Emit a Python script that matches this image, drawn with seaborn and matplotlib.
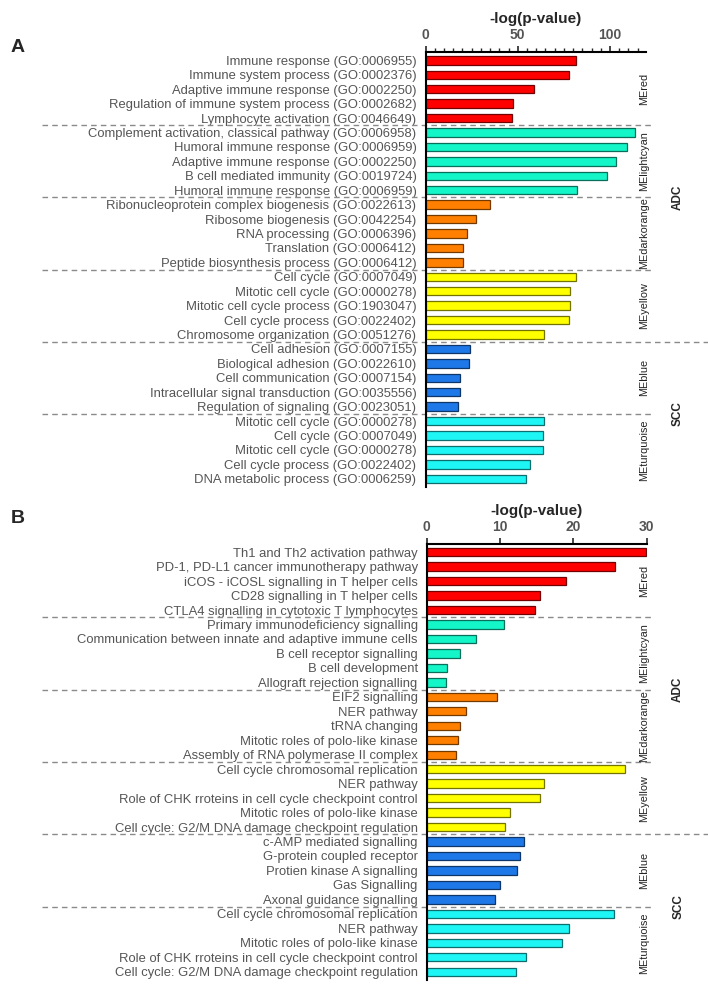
import numpy as np
import pandas as pd
import matplotlib
matplotlib.use("Agg")
import matplotlib.pyplot as plt
import matplotlib.colors as mcolors
from matplotlib.ticker import MultipleLocator
from matplotlib.transforms import blended_transform_factory
import seaborn as sns

# --- data -------------------------------------------------------------
modules = ["MEred", "MElightcyan", "MEdarkorange", "MEyellow", "MEblue", "MEturquoise"]
module_colors = {
    "MEred": "#ff0000",
    "MElightcyan": "#14f5c8",
    "MEdarkorange": "#ff8000",
    "MEyellow": "#ffff00",
    "MEblue": "#1e78e8",
    "MEturquoise": "#1ef5f5",
}

terms_a = [
    "Immune response (GO:0006955)",
    "Immune system process (GO:0002376)",
    "Adaptive immune response (GO:0002250)",
    "Regulation of immune system process (GO:0002682)",
    "Lymphocyte activation (GO:0046649)",
    "Complement activation, classical pathway (GO:0006958)",
    "Humoral immune response (GO:0006959)",
    "Adaptive immune response (GO:0002250)",
    "B cell mediated immunity (GO:0019724)",
    "Humoral immune response (GO:0006959)",
    "Ribonucleoprotein complex biogenesis (GO:0022613)",
    "Ribosome biogenesis (GO:0042254)",
    "RNA processing (GO:0006396)",
    "Translation (GO:0006412)",
    "Peptide biosynthesis process (GO:0006412)",
    "Cell cycle (GO:0007049)",
    "Mitotic cell cycle (GO:0000278)",
    "Mitotic cell cycle process (GO:1903047)",
    "Cell cycle process (GO:0022402)",
    "Chromosome organization (GO:0051276)",
    "Cell adhesion (GO:0007155)",
    "Biological adhesion (GO:0022610)",
    "Cell communication (GO:0007154)",
    "Intracellular signal transduction (GO:0035556)",
    "Regulation of signaling (GO:0023051)",
    "Mitotic cell cycle (GO:0000278)",
    "Cell cycle (GO:0007049)",
    "Mitotic cell cycle (GO:0000278)",
    "Cell cycle process (GO:0022402)",
    "DNA metabolic process (GO:0006259)",
]
values_a = [
    81.6, 77.6, 59.0, 47.5, 47.1,
    113.5, 109.2, 103.0, 98.6, 82.1,
    34.7, 27.3, 22.6, 20.2, 20.2,
    81.6, 78.3, 78.2, 78.0, 64.3,
    24.2, 23.6, 18.5, 18.5, 17.5,
    64.1, 63.7, 63.7, 56.9, 54.4,
]

terms_b = [
    "Th1 and Th2 activation pathway",
    "PD-1, PD-L1 cancer immunotherapy pathway",
    "iCOS - iCOSL signalling in T helper cells",
    "CD28 signalling in T helper cells",
    "CTLA4 signalling in cytotoxic T lymphocytes",
    "Primary immunodeficiency signalling",
    "Communication between innate and adaptive immune cells",
    "B cell receptor signalling",
    "B cell development",
    "Allograft rejection signalling",
    "EIF2 signalling",
    "NER pathway",
    "tRNA changing",
    "Mitotic roles of polo-like kinase",
    "Assembly of RNA polymerase II complex",
    "Cell cycle chromosomal replication",
    "NER pathway",
    "Role of CHK rroteins in cell cycle checkpoint control",
    "Mitotic roles of polo-like kinase",
    "Cell cycle: G2/M DNA damage checkpoint regulation",
    "c-AMP mediated signalling",
    "G-protein coupled receptor",
    "Protien kinase A signalling",
    "Gas Signalling",
    "Axonal guidance signalling",
    "Cell cycle chromosomal replication",
    "NER pathway",
    "Mitotic roles of polo-like kinase",
    "Role of CHK rroteins in cell cycle checkpoint control",
    "Cell cycle: G2/M DNA damage checkpoint regulation",
]
values_b = [
    29.9, 25.7, 19.0, 15.4, 14.8,
    10.5, 6.7, 4.5, 2.7, 2.6,
    9.6, 5.3, 4.6, 4.2, 4.0,
    27.1, 16.0, 15.5, 11.4, 10.7,
    13.3, 12.7, 12.3, 10.0, 9.3,
    25.5, 19.4, 18.5, 13.6, 12.2,
]

group_size = 5
cancer_groups = [("ADC", 0, 19), ("SCC", 20, 29)]


def make_frame(terms, values):
    df = pd.DataFrame({"term": terms, "value": values})
    df["row"] = [str(i) for i in range(len(df))]
    df["module"] = [modules[i // group_size] for i in range(len(df))]
    return df


def draw_panel(fig, rect, df, xmax, major, minor, letter, letter_y):
    ax = fig.add_axes(rect)
    sns.barplot(data=df, x="value", y="row", hue="module", order=list(df["row"]),
                hue_order=modules, palette=module_colors, dodge=False,
                saturation=1, width=0.58, orient="h", legend=False, ax=ax)

    # darker outline of each bar
    for p in ax.patches:
        fc = np.array(mcolors.to_rgb(p.get_facecolor()))
        p.set_edgecolor(fc * 0.45)
        p.set_linewidth(0.9)

    n = len(df)
    ax.set_ylim(n - 1 + 0.57, -0.57)
    ax.set_xlim(0, xmax)
    ax.set_yticks(range(n))
    ax.set_yticklabels(df["term"], fontsize=9.4, color="#555555")
    ax.set_ylabel("")

    ax.xaxis.tick_top()
    ax.xaxis.set_label_position("top")
    ax.set_xlabel("-log(p-value)", fontsize=11, fontweight="bold", labelpad=4)
    ax.xaxis.set_major_locator(MultipleLocator(major))
    if minor:
        ax.xaxis.set_minor_locator(MultipleLocator(minor))
    for lab in ax.get_xticklabels():
        lab.set_fontweight("bold")
    ax.tick_params(axis="x", which="major", labelsize=10, labelcolor="#555555",
                   length=4, width=1.2, pad=3)
    ax.tick_params(axis="x", which="minor", length=3, width=1)
    ax.tick_params(axis="y", length=3.5, width=1.3, pad=3)

    for side in ("right", "bottom"):
        ax.spines[side].set_visible(False)
    for side in ("top", "left"):
        ax.spines[side].set_linewidth(1.5)
        ax.spines[side].set_color("black")

    # dashed separators between modules
    trans = blended_transform_factory(fig.transFigure, ax.transData)
    for k in range(1, len(modules)):
        y = k * group_size - 0.5
        x1 = 1.0 if k == 4 else 0.921
        ax.plot([0.059, x1], [y, y], transform=trans, color="#8a8a8a",
                linestyle=(0, (4, 3)), linewidth=1, clip_on=False)

    # module names on the right side
    lab_trans = blended_transform_factory(ax.transAxes, ax.transData)
    for k, m in enumerate(modules):
        ax.text(0.99, k * group_size + 2, m, transform=lab_trans, rotation=90,
                ha="center", va="center", fontsize=7.8, color="#222222")
    for name, r0, r1 in cancer_groups:
        ax.text(1.143, (r0 + r1) / 2, name, transform=lab_trans, rotation=90,
                ha="center", va="center", fontsize=8.5, fontweight="bold")

    fig.text(18 / 708, letter_y, letter, ha="center", va="center",
             fontsize=14, fontweight="bold")
    return ax


sns.set_style("white")
plt.rcParams["font.family"] = ["Liberation Sans", "DejaVu Sans"]

fig = plt.figure(figsize=(7.08, 9.96), dpi=100)

df_a = make_frame(terms_a, values_a)
df_b = make_frame(terms_b, values_b)

draw_panel(fig, [0.601, 0.511, 0.3114, 0.4367], df_a, 119.5, 50, 5, "A", 1 - 48 / 996)
draw_panel(fig, [0.6027, 0.0161, 0.3107, 0.4378], df_b, 30, 10, None, "B", 1 - 518 / 996)

fig.savefig("out.png", dpi=100)
